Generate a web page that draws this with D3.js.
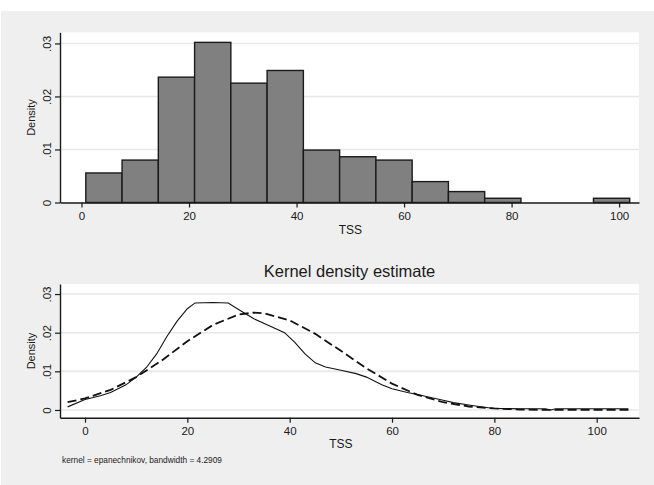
<!DOCTYPE html>
<html><head><meta charset="utf-8">
<script src="https://cdn.jsdelivr.net/npm/d3@7"></script>
<style>
html,body{margin:0;padding:0;background:#fff;}
svg text{font-family:"Liberation Sans",Arial,sans-serif;fill:#1a1a1a;}
</style></head>
<body>
<svg id="chart" width="654" height="485"></svg>
<script>
// ---- data ----
const binStart = 0.8;
const binWidth = 6.745;
const histDensity = [0.00557, 0.0080, 0.02364, 0.0302, 0.02251, 0.0249, 0.00989, 0.00863, 0.0080, 0.00394, 0.00206, 0.0008, 0, 0, 0.0008];
const xTicks = [0, 20, 40, 60, 80, 100];
const yTicks = [0, 0.01, 0.02, 0.03];
const yTickLabels = ["0", ".01", ".02", ".03"];
// kernel density estimate (solid)
const kdeX = [-3.4, 0, 3, 5, 8, 10, 12, 14, 16, 18, 20, 21.5, 25, 28, 30, 33, 36, 39, 41, 43, 45, 47, 50, 53, 55, 58, 60, 63, 65, 68, 70, 72, 75, 78, 80, 85, 90, 91, 92, 95, 100, 106.2];
const kdeY = [0.0008, 0.0027, 0.0037, 0.0045, 0.0065, 0.0085, 0.0110, 0.0145, 0.0190, 0.0230, 0.0262, 0.0277, 0.0278, 0.0277, 0.0260, 0.0236, 0.0218, 0.0200, 0.0175, 0.0145, 0.0122, 0.0111, 0.0103, 0.0094, 0.0085, 0.0065, 0.0055, 0.0045, 0.0040, 0.0031, 0.0025, 0.0019, 0.0013, 0.0007, 0.0004, 0.0003, 0.0003, 0.0000, 0.0003, 0.0003, 0.0003, 0.0003];
// normal density overlay (dashed)
const normX = [-3.4, 0, 5, 10, 15, 20, 25, 30, 33, 35, 40, 45, 50, 55, 60, 65, 70, 75, 80, 85, 90, 100, 106.2];
const normY = [0.0020, 0.0030, 0.0052, 0.0085, 0.0128, 0.0178, 0.0220, 0.0247, 0.0252, 0.0250, 0.0232, 0.0197, 0.0153, 0.0108, 0.0068, 0.0039, 0.0020, 0.0009, 0.0004, 0.0001, 0.0000, 0.0000, 0.0000];
const titleText = "Kernel density estimate";
const noteText = "kernel = epanechnikov, bandwidth = 4.2909";

const svg = d3.select("#chart");
svg.append("rect").attr("x",1).attr("y",11).attr("width",653).attr("height",474).attr("fill","#efefef");

const axisColor = "#1a1a1a";
function styleAxis(g){
  g.select(".domain").attr("stroke",axisColor).attr("stroke-width",1.4);
  g.selectAll(".tick line").attr("stroke",axisColor).attr("stroke-width",1.2);
  g.selectAll(".tick text").attr("fill","#1a1a1a").style("font-size","11.5px");
}

// ---------- top: histogram ----------
const L=60, R=639;
const x1 = d3.scaleLinear().domain([-4, 103.7]).range([L, R]);
const y1 = d3.scaleLinear().domain([0, 0.0321]).range([202.5, 32.3]);
svg.append("rect").attr("x",L).attr("y",32.3).attr("width",R-L).attr("height",202.5-32.3).attr("fill","#fff");
svg.append("g").selectAll("line").data(yTicks.slice(1)).join("line")
  .attr("x1",L).attr("x2",R).attr("y1",d=>y1(d)).attr("y2",d=>y1(d))
  .attr("stroke","#e8e8e8").attr("stroke-width",1.6);
const bins = histDensity.map((d,i)=>({x0:binStart+i*binWidth, x1:binStart+(i+1)*binWidth, d}));
svg.append("g").selectAll("rect").data(bins.filter(b=>b.d>0)).join("rect")
  .attr("x",b=>x1(b.x0)).attr("width",b=>x1(b.x1)-x1(b.x0))
  .attr("y",b=>y1(b.d)).attr("height",b=>y1(0)-y1(b.d))
  .attr("fill","#808080").attr("stroke","#1a1a1a").attr("stroke-width",1.4);
const gx1 = svg.append("g").attr("transform",`translate(0,${y1(0)})`)
  .call(d3.axisBottom(x1).tickValues(xTicks).tickSize(5).tickSizeOuter(0).tickPadding(4));
styleAxis(gx1);
const gy1 = svg.append("g").attr("transform",`translate(${L},0)`)
  .call(d3.axisLeft(y1).tickValues(yTicks).tickFormat((d,i)=>yTickLabels[i]).tickSize(5).tickSizeOuter(0));
styleAxis(gy1);
gy1.selectAll(".tick text").attr("transform","rotate(-90)").attr("x",0).attr("y",-9.5).attr("dy",0).attr("text-anchor","middle");
svg.append("text").attr("x",(x1(0)+x1(100))/2).attr("y",234).attr("text-anchor","middle").style("font-size","12px").text("TSS");
svg.append("text").attr("transform","translate(34.5,117.5) rotate(-90)").attr("text-anchor","middle").style("font-size","11px").text("Density");

// ---------- bottom: kernel density ----------
const x2 = d3.scaleLinear().domain([-4.89, 108.27]).range([L, R]);
const y2 = d3.scaleLinear().domain([-0.002, 0.0326]).range([417.7, 284]);
svg.append("rect").attr("x",L).attr("y",284).attr("width",R-L).attr("height",417.7-284).attr("fill","#fff");
svg.append("g").selectAll("line").data(yTicks).join("line")
  .attr("x1",L).attr("x2",R).attr("y1",d=>y2(d)).attr("y2",d=>y2(d))
  .attr("stroke","#e8e8e8").attr("stroke-width",1.6);
const line2 = d3.line().x(d=>x2(d[0])).y(d=>y2(d[1]));
svg.append("path").datum(kdeX.map((v,i)=>[v,kdeY[i]])).attr("d",line2)
  .attr("fill","none").attr("stroke","#111").attr("stroke-width",1.1);
svg.append("path").datum(normX.map((v,i)=>[v,normY[i]])).attr("d",line2)
  .attr("fill","none").attr("stroke","#111").attr("stroke-width",1.8).attr("stroke-dasharray","9,4");
const gx2 = svg.append("g").attr("transform",`translate(0,417.7)`)
  .call(d3.axisBottom(x2).tickValues(xTicks).tickSize(5).tickSizeOuter(0).tickPadding(4));
styleAxis(gx2);
const gy2 = svg.append("g").attr("transform",`translate(${L},0)`)
  .call(d3.axisLeft(y2).tickValues(yTicks).tickFormat((d,i)=>yTickLabels[i]).tickSize(5).tickSizeOuter(0));
styleAxis(gy2);
gy2.selectAll(".tick text").attr("transform","rotate(-90)").attr("x",0).attr("y",-9.5).attr("dy",0).attr("text-anchor","middle");
svg.append("text").attr("x",(L+R)/2).attr("y",277).attr("text-anchor","middle").style("font-size","16.5px").text(titleText);
svg.append("text").attr("x",(x2(0)+x2(100))/2).attr("y",448).attr("text-anchor","middle").style("font-size","12px").text("TSS");
svg.append("text").attr("transform","translate(34.5,351) rotate(-90)").attr("text-anchor","middle").style("font-size","11px").text("Density");
svg.append("text").attr("x",62).attr("y",463).style("font-size","8.3px").text(noteText);
</script>
</body></html>
